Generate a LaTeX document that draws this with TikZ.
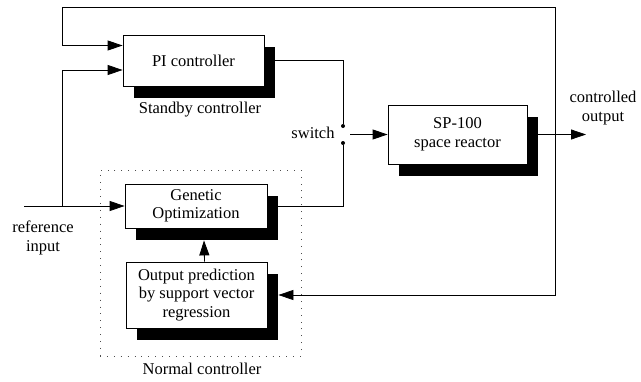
\documentclass[tikz,border=0pt]{standalone}
\usepackage{fontspec}
\setmainfont{Liberation Serif}
\usetikzlibrary{arrows.meta,shadows}

\begin{document}
\begin{tikzpicture}[x=1pt,y=-1pt]
  \tikzset{blockbox/.style={draw, fill=white, line width=0.8pt, align=center,
      drop shadow={shadow xshift=11pt, shadow yshift=-12pt, fill=black, opacity=1}},
    arr/.style={line width=0.8pt, -{Triangle[length=15pt,width=10pt]}},
    wire/.style={line width=0.8pt},
    swdot/.style={circle, fill=black, inner sep=0pt, minimum size=4pt},
    dotbox/.style={draw=black!70, line width=0.9pt, dash pattern=on 0.9pt off 6pt},
    lbl/.style={align=center, font=\fontsize{16.5}{18.5}\selectfont}}
  \useasboundingbox (0,0) rectangle (641,381);
  % blocks
  \node[dotbox, minimum width=201pt, minimum height=186pt] (nc) at (200.5,263) {};
  \node[blockbox, lbl, minimum width=141pt, minimum height=51pt] (pi) at (193.5,60.5) {PI controller};
  \node[blockbox, lbl, minimum width=139pt, minimum height=59pt] (sp) at (457.5,134.5) {SP-100\\space reactor};
  \node[blockbox, lbl, minimum width=142pt, minimum height=44pt] (go) at (196,206) {Genetic\\Optimization};
  \node[blockbox, lbl, minimum width=141pt, minimum height=66pt] (osv) at (196.5,295) {Output prediction\\by support vector\\regression};
  % labels
  \node[lbl] (sbl) at (200,110) {Standby controller};
  \node[lbl] (ncl) at (202,369) {Normal controller};
  \node[lbl] (refl) at (43,238) {reference\\input};
  \node[lbl] (outl) at (603,108) {controlled\\output};
  \node[lbl] (swl) at (313,133) {switch};
  % switch
  \node[swdot] (sw1) at (343,126) {};
  \node[swdot] (sw2) at (343,143) {};
  \coordinate (swout) at (350,134.5);
  \coordinate (refin) at (24,206);
  \coordinate (rj) at (62,206);
  \coordinate (tl) at (62,7);
  \coordinate (tap) at (555,134.5);
  \coordinate (out) at (586,134.5);
  % connectors
  \draw[wire] (pi.east) -| (sw1);
  \draw[wire] (go.east) -| (sw2);
  \draw[arr] (swout) -- (sp.west);
  \draw[arr] (sp.east) -- (out);
  \draw[arr] (tap) |- (tl) |- ([yshift=15pt]pi.west);
  \draw[arr] (refin) -- (go.west);
  \draw[arr] (rj) |- ([yshift=-9.5pt]pi.west);
  \draw[arr] (tap) |- ([xshift=11pt]osv.east);
  \draw[arr] ([xshift=8pt]osv.north) -- ([xshift=8pt,yshift=-12pt]go.south);
\end{tikzpicture}
\end{document}
